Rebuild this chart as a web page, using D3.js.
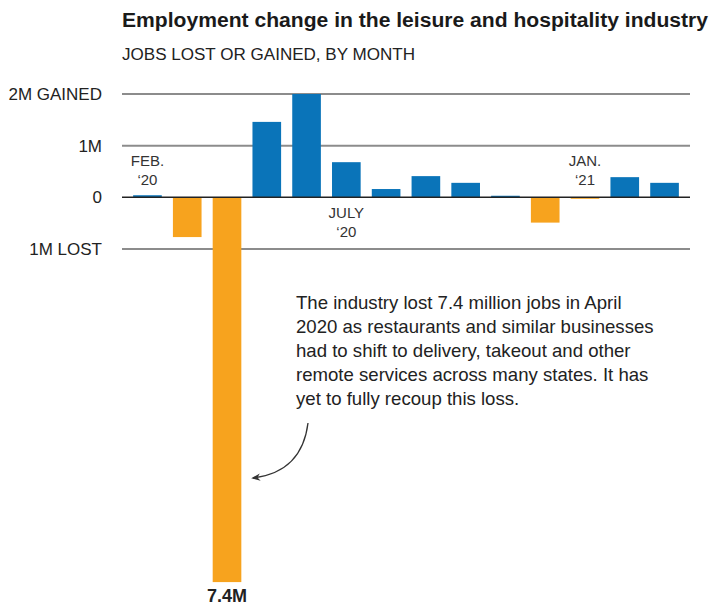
<!DOCTYPE html>
<html>
<head>
<meta charset="utf-8">
<script src="https://cdn.jsdelivr.net/npm/d3@7/dist/d3.min.js"></script>
<style>
  html, body { margin: 0; padding: 0; background: #fff; }
  svg { display: block; font-family: "Liberation Sans", Arial, Helvetica, sans-serif; }
</style>
</head>
<body>
<svg id="chart" width="713" height="606"></svg>
<script>
// ---- data ----
const months = ["2020-02","2020-03","2020-04","2020-05","2020-06","2020-07","2020-08","2020-09","2020-10","2020-11","2020-12","2021-01","2021-02","2021-03"];
const changeMillions = [0.04, -0.77, -7.45, 1.46, 2.0, 0.68, 0.16, 0.41, 0.28, 0.03, -0.49, -0.02, 0.39, 0.28];
const tickValues = [2, 1, 0, -1];
const tickLabels = ["2M GAINED", "1M", "0", "1M LOST"];
const monthLabels = [
  { month: "2020-02", lines: ["FEB.", "\u201820"], pos: "above" },
  { month: "2020-07", lines: ["JULY", "\u201820"], pos: "below" },
  { month: "2021-01", lines: ["JAN.", "\u201821"], pos: "above" }
];
const title = "Employment change in the leisure and hospitality industry";
const subtitle = "JOBS LOST OR GAINED, BY MONTH";
const noteLines = [
  "The industry lost 7.4 million jobs in April",
  "2020 as restaurants and similar businesses",
  "had to shift to delivery, takeout and other",
  "remote services across many states. It has",
  "yet to fully recoup this loss."
];
const bigLabel = "7.4M";

// ---- layout ----
const svg = d3.select("#chart");
const left = 122, right = 690;
const x = d3.scaleBand().domain(months).range([left, right]).paddingInner(0.28).paddingOuter(0.28);
const y = d3.scaleLinear().domain([2, 0]).range([94, 197.3]);

const blue = "#0a74b9", orange = "#f7a31e";

// title
svg.append("text").attr("x", left).attr("y", 27)
  .attr("font-size", 20).attr("font-weight", "bold").attr("fill", "#1a1a1a")
  .attr("textLength", 586).attr("lengthAdjust", "spacingAndGlyphs")
  .text(title);
svg.append("text").attr("x", left).attr("y", 60)
  .attr("font-size", 16).attr("fill", "#222")
  .attr("textLength", 293).attr("lengthAdjust", "spacingAndGlyphs")
  .text(subtitle);

// gridlines (non-zero)
svg.append("g").selectAll("line").data(tickValues.filter(d => d !== 0)).join("line")
  .attr("x1", left).attr("x2", right)
  .attr("y1", d => y(d)).attr("y2", d => y(d))
  .attr("stroke", "#8c8c8c").attr("stroke-width", 2);

// tick labels
svg.append("g").selectAll("text").data(tickValues).join("text")
  .attr("x", 102).attr("y", d => y(d) + 6)
  .attr("text-anchor", "end").attr("font-size", 17).attr("fill", "#222")
  .text((d, i) => tickLabels[i]);

// bars
svg.append("g").selectAll("rect").data(months).join("rect")
  .attr("x", d => x(d))
  .attr("width", x.bandwidth())
  .attr("y", (d, i) => y(Math.max(0, changeMillions[i])))
  .attr("height", (d, i) => Math.max(1.5, Math.abs(y(changeMillions[i]) - y(0))))
  .attr("fill", (d, i) => changeMillions[i] >= 0 ? blue : orange);

// zero line
svg.append("line").attr("x1", left).attr("x2", right)
  .attr("y1", y(0)).attr("y2", y(0))
  .attr("stroke", "#222").attr("stroke-width", 1.6);

// month labels
monthLabels.forEach(m => {
  const cx = x(m.month) + x.bandwidth() / 2;
  const baseY = m.pos === "above" ? 166 : 218;
  m.lines.forEach((ln, k) => {
    svg.append("text").attr("x", cx).attr("y", baseY + k * 19)
      .attr("text-anchor", "middle").attr("font-size", 15).attr("fill", "#333")
      .text(ln);
  });
});

// annotation text
const note = svg.append("text").attr("font-size", 18.6).attr("fill", "#222");
noteLines.forEach((ln, k) => {
  note.append("tspan").attr("x", 296).attr("y", 309 + k * 24).text(ln);
});

// arrow
const defs = svg.append("defs");
defs.append("marker").attr("id", "ah").attr("viewBox", "0 0 10 10")
  .attr("refX", 8).attr("refY", 5).attr("markerWidth", 7).attr("markerHeight", 7)
  .attr("orient", "auto")
  .append("path").attr("d", "M0,1 L10,5 L0,9 L3,5 Z").attr("fill", "#333");
svg.append("path")
  .attr("d", "M308,423 Q302,472 253,478")
  .attr("fill", "none").attr("stroke", "#333").attr("stroke-width", 1.3)
  .attr("marker-end", "url(#ah)");

// big label under April bar
const apr = "2020-04";
svg.append("text").attr("x", x(apr) + x.bandwidth() / 2).attr("y", 602)
  .attr("text-anchor", "middle").attr("font-size", 18).attr("font-weight", "bold").attr("fill", "#222")
  .text(bigLabel);
</script>
</body>
</html>
